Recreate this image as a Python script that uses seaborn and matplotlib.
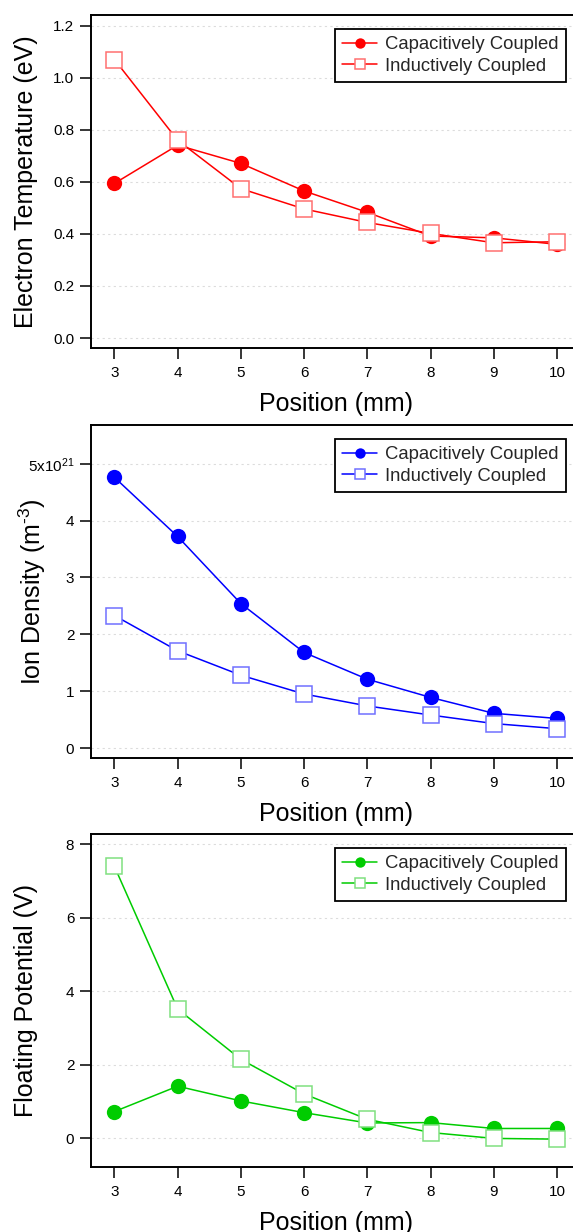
import matplotlib
matplotlib.use("Agg")
import matplotlib.pyplot as plt
import seaborn as sns
import pandas as pd

# Probe positions along the discharge axis
position_mm = [3, 4, 5, 6, 7, 8, 9, 10]

# Electron temperature (eV)
te_capacitive = [0.594, 0.741, 0.671, 0.565, 0.483, 0.392, 0.385, 0.360]
te_inductive = [1.070, 0.760, 0.574, 0.496, 0.444, 0.402, 0.366, 0.370]

# Ion density in units of 1e21 m^-3
ni_capacitive = [4.76, 3.72, 2.54, 1.68, 1.21, 0.89, 0.61, 0.52]
ni_inductive = [2.33, 1.71, 1.28, 0.95, 0.74, 0.58, 0.43, 0.34]

# Floating potential (V)
vf_capacitive = [0.73, 1.42, 1.02, 0.70, 0.42, 0.43, 0.27, 0.27]
vf_inductive = [7.40, 3.52, 2.15, 1.21, 0.52, 0.16, 0.00, -0.02]

series_labels = ["Capacitively Coupled", "Inductively Coupled"]
x_ticks = [3, 4, 5, 6, 7, 8, 9, 10]
te_ticks = [0.0, 0.2, 0.4, 0.6, 0.8, 1.0, 1.2]
te_ticklabels = ["0.0", "0.2", "0.4", "0.6", "0.8", "1.0", "1.2"]
ni_ticks = [0, 1, 2, 3, 4, 5]
ni_ticklabels = ["0", "1", "2", "3", "4", "5x10$^{21}$"]
vf_ticks = [0, 2, 4, 6, 8]
vf_ticklabels = ["0", "2", "4", "6", "8"]

sns.set_theme(style="ticks")
plt.rcParams["font.family"] = ["Liberation Sans", "DejaVu Sans"]
plt.rcParams["mathtext.fontset"] = "custom"
plt.rcParams["mathtext.rm"] = "Liberation Sans"
plt.rcParams["mathtext.it"] = "Liberation Sans"

fig = plt.figure(figsize=(5.73, 12.32), dpi=100)

panels = [
    dict(cc=te_capacitive, ic=te_inductive, color="#ff0000", edge="#ff7070",
         ylim=(-0.037, 1.241), ticks=te_ticks, ticklabels=te_ticklabels,
         ylabel="Electron Temperature (eV)", bottom=0.7178, ylab_x=-0.111),
    dict(cc=ni_capacitive, ic=ni_inductive, color="#0000ff", edge="#7070ff",
         ylim=(-0.17, 5.68), ticks=ni_ticks, ticklabels=ni_ticklabels,
         ylabel=r"Ion Density (m$^{\text{-3}}$)", bottom=0.3850, ylab_x=-0.090),
    dict(cc=vf_capacitive, ic=vf_inductive, color="#00cc00", edge="#80e080",
         ylim=(-0.77, 8.28), ticks=vf_ticks, ticklabels=vf_ticklabels,
         ylabel="Floating Potential (V)", bottom=0.0530, ylab_x=-0.110),
]

for p in panels:
    ax = fig.add_axes([0.1595, p["bottom"], 0.8457, 0.2700])
    df = pd.DataFrame({"position": position_mm, "cc": p["cc"], "ic": p["ic"]})

    sns.lineplot(data=df, x="position", y="cc", ax=ax, color=p["color"],
                 lw=1.1, marker="o", markersize=11, markeredgewidth=0,
                 markerfacecolor=p["color"], label=series_labels[0], zorder=3)
    sns.lineplot(data=df, x="position", y="ic", ax=ax, color=p["color"],
                 lw=1.1, marker="s", markersize=11, markeredgewidth=1.1,
                 markerfacecolor="white", markeredgecolor=p["edge"],
                 label=series_labels[1], zorder=4)

    ax.set_xlim(2.636, 10.30)
    ax.set_ylim(*p["ylim"])
    ax.set_xticks(x_ticks)
    ax.set_yticks(p["ticks"])
    ax.set_yticklabels(p["ticklabels"])

    ax.yaxis.grid(True, linestyle=(0, (2, 3)), color="#dcdcdc", lw=0.8)
    ax.xaxis.grid(False)
    ax.set_axisbelow(True)

    for s in ax.spines.values():
        s.set_linewidth(1.4)
        s.set_color("black")

    ax.tick_params(axis="both", direction="out", length=8, width=1.1,
                   color="black", labelsize=11, labelcolor="black")
    ax.tick_params(axis="x", pad=5)
    ax.tick_params(axis="y", pad=4.3)

    ax.set_xlabel("Position (mm)", fontsize=18, color="black")
    ax.set_ylabel(p["ylabel"], fontsize=18, color="black")
    ax.xaxis.set_label_coords(0.505, -0.133)
    ax.yaxis.set_label_coords(p["ylab_x"], 0.5)

    leg = ax.legend(loc="upper right", bbox_to_anchor=(0.9794, 0.958),
                    borderaxespad=0, frameon=True, fancybox=False,
                    framealpha=1, edgecolor="black", fontsize=13.3,
                    handlelength=1.9, handletextpad=0.45, labelspacing=0.25,
                    borderpad=0.38, markerscale=0.68)
    leg.get_frame().set_linewidth(1.3)

fig.savefig("out.png", dpi=100)
